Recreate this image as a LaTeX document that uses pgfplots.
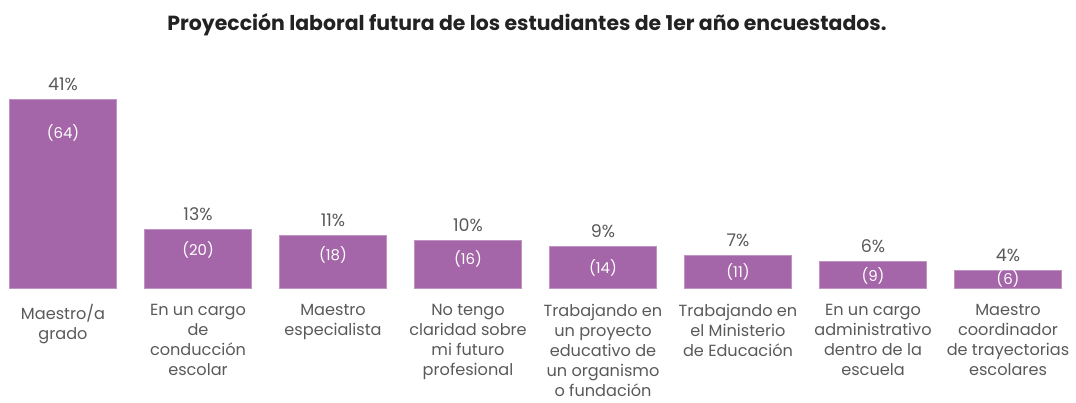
\documentclass[border=0pt]{standalone}
\usepackage{pgfplots}
\pgfplotsset{compat=1.18}
\usepackage{pgfplotstable}
\usepackage{fontspec}
\setmainfont{Poppins}

\definecolor{barviolet}{HTML}{A466A8}
\definecolor{labelgray}{HTML}{595959}
\definecolor{titleblack}{HTML}{222222}

% pos, bar height (%), shown percentage, count, y of count label
\pgfplotstableread{
x  h     pct n  ly
0  41.0  41  64 33.6
1  12.8  13  20 8.2
2  11.5  11  18 7.2
3  10.3  10  16 6.3
4  9.0   9   14 4.4
5  7.0   7   11 3.5
6  5.8   6   9  2.7
7  3.8   4   6  1.9
}\datatable

\begin{document}
\begin{tikzpicture}
\begin{axis}[
    scale only axis,
    width=1076bp, height=228bp,
    xmin=-0.467, xmax=7.504,
    ymin=0, ymax=49.5,
    axis lines=none,
    clip=false,
    ytick=\empty, xtick=\empty,
    /pgf/number format/assume math mode=true,
]
\addplot[ybar, bar width=0.793, fill=barviolet, draw=barviolet!70!white, line width=0.6bp,
    point meta=\thisrow{pct},
    nodes near coords={\pgfmathprintnumber{\pgfplotspointmeta}\%},
    every node near coord/.append style={font=\fontsize{17.5}{20}\selectfont, text=labelgray, anchor=base, inner sep=0pt, yshift=9bp}]
    table[x=x, y=h] {\datatable};
\addplot[only marks, mark=none,
    point meta=\thisrow{n},
    nodes near coords={(\pgfmathprintnumber{\pgfplotspointmeta})},
    every node near coord/.append style={font=\fontsize{15}{17}\selectfont, text=white, anchor=center, inner sep=0pt}]
    table[x=x, y=ly] {\datatable};
\end{axis}
\foreach \i/\t in {
    0/{Maestro/a\\grado},
    1/{En un cargo\\de\\conducción\\escolar},
    2/{Maestro\\especialista},
    3/{No tengo\\claridad sobre\\mi futuro\\profesional},
    4/{Trabajando en\\un proyecto\\educativo de\\un organismo\\o fundación},
    5/{Trabajando en\\el Ministerio\\de Educación},
    6/{En un cargo\\administrativo\\dentro de la\\escuela},
    7/{Maestro\\coordinador\\de trayectorias\\escolares}} {
  \node[anchor=north, align=center, font=\fontsize{16.2}{20.2}\selectfont, text=labelgray, inner sep=0pt]
    at ({(63+135*\i)*1bp}, -16bp) {\t};
}
\node[font=\bfseries\fontsize{20.5}{24}\selectfont, text=titleblack] at (527bp, 263bp)
    {Proyección laboral futura de los estudiantes de 1er año encuestados.};
\path[use as bounding box] (0,-115bp) rectangle (1076bp, 288bp);
\end{tikzpicture}
\end{document}
